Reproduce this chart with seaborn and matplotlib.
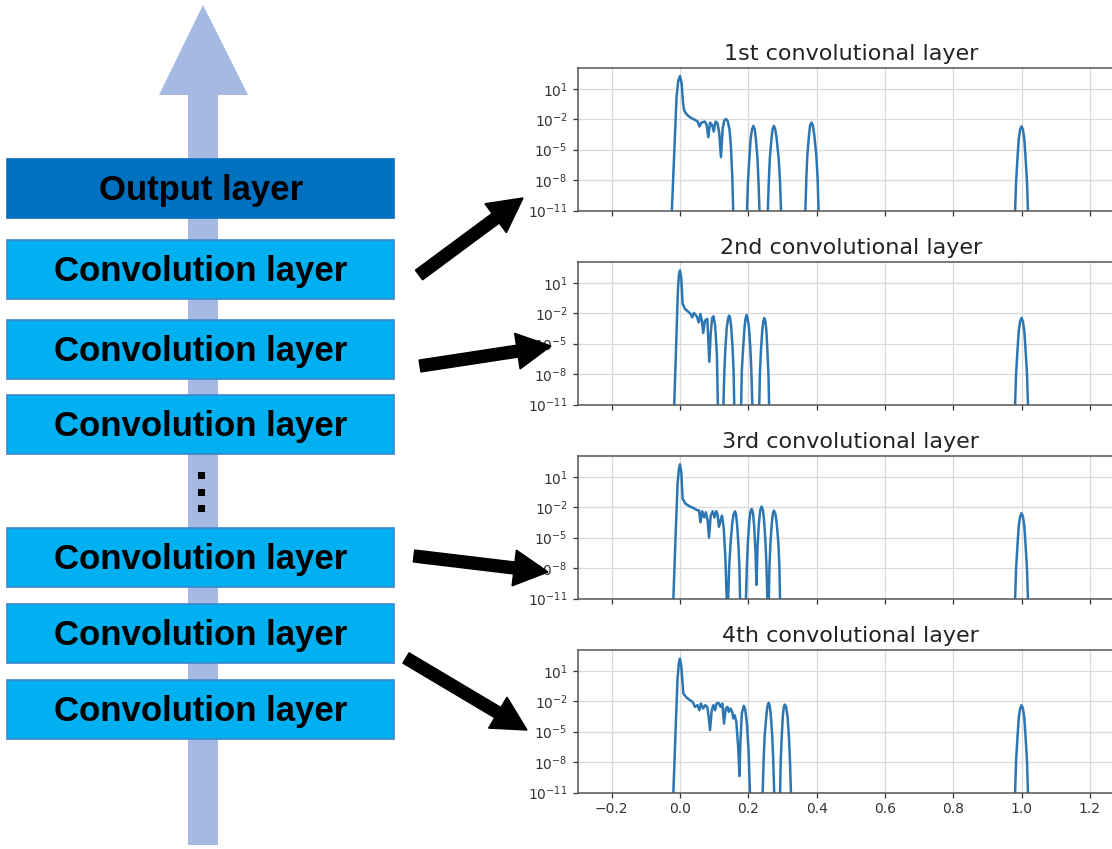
import numpy as np
import pandas as pd
import seaborn as sns
import matplotlib
matplotlib.use("Agg")
import matplotlib.pyplot as plt
from matplotlib.patches import Rectangle, Polygon, FancyArrow
from matplotlib.ticker import NullLocator

# ---------------- data (x, log10 of value) ----------------
titles = ["1st convolutional layer", "2nd convolutional layer",
          "3rd convolutional layer", "4th convolutional layer"]

layer1 = [(-0.026, -16), (-0.024, -11.2), (-0.017, -5.5), (-0.010, 0.2), (-0.005, 1.8), (0.0, 2.26),
          (0.005, 1.5), (0.009, -0.4), (0.012, -1.1), (0.017, -1.41), (0.024, -1.67), (0.034, -1.9),
          (0.044, -2.07), (0.052, -2.23), (0.057, -2.72), (0.063, -2.33), (0.073, -2.23), (0.078, -2.56),
          (0.083, -3.77), (0.088, -2.33), (0.094, -2.56), (0.099, -3.21), (0.104, -2.23), (0.110, -2.39),
          (0.115, -3.38), (0.120, -5.74), (0.125, -2.89), (0.130, -2.1), (0.135, -1.97), (0.140, -2.2),
          (0.145, -3.0), (0.149, -4.6), (0.153, -7.5), (0.156, -11.2), (0.158, -16),
          (0.194, -16), (0.196, -11.2), (0.199, -8.2), (0.203, -5.9), (0.207, -3.9), (0.211, -3.0),
          (0.215, -2.66), (0.219, -3.0), (0.222, -3.9), (0.227, -5.9), (0.230, -8.2), (0.233, -11.2),
          (0.235, -16),
          (0.255, -16), (0.257, -11.2), (0.260, -8.2), (0.263, -5.9), (0.268, -3.9), (0.271, -3.0),
          (0.275, -2.66), (0.279, -3.0), (0.283, -3.9), (0.289, -5.9), (0.293, -8.2), (0.296, -11.2),
          (0.298, -16),
          (0.365, -16), (0.367, -11.2), (0.370, -7.8), (0.373, -5.5), (0.378, -3.5), (0.381, -2.6),
          (0.385, -2.33), (0.389, -2.6), (0.393, -3.5), (0.399, -5.5), (0.403, -7.8), (0.406, -11.2),
          (0.408, -16),
          (0.979, -16), (0.981, -11.2), (0.984, -8.2), (0.988, -5.9), (0.992, -3.9), (0.996, -3.0),
          (1.0, -2.7), (1.004, -3.0), (1.008, -3.9), (1.012, -5.9), (1.016, -8.2), (1.019, -11.2),
          (1.021, -16)]

layer2 = [(-0.019, -16), (-0.017, -11.2), (-0.011, -5.0), (-0.006, 0.3), (-0.003, 1.8), (0.0, 2.22),
          (0.004, 1.4), (0.0078, -1.08), (0.0146, -1.57), (0.024, -1.84), (0.031, -2.07), (0.036, -2.4),
          (0.041, -1.97), (0.049, -2.3), (0.055, -2.9), (0.060, -2.07), (0.064, -2.73), (0.068, -3.95),
          (0.073, -2.73), (0.080, -2.56), (0.086, -6.8), (0.090, -4.0), (0.094, -2.5), (0.098, -2.3),
          (0.103, -3.2), (0.108, -6.0), (0.111, -11.2), (0.113, -16),
          (0.125, -16), (0.127, -11.2), (0.130, -7.7), (0.133, -5.4), (0.137, -3.4), (0.141, -2.5),
          (0.144, -2.23), (0.147, -2.5), (0.150, -3.4), (0.154, -5.4), (0.157, -7.7), (0.159, -11.2),
          (0.161, -16),
          (0.177, -16), (0.179, -11.2), (0.181, -7.7), (0.185, -5.4), (0.189, -3.4), (0.192, -2.5),
          (0.195, -2.17), (0.198, -2.5), (0.202, -3.4), (0.206, -5.4), (0.209, -7.7), (0.212, -11.2),
          (0.214, -16),
          (0.230, -16), (0.232, -11.2), (0.234, -8.0), (0.237, -5.7), (0.241, -3.7), (0.244, -2.8),
          (0.247, -2.47), (0.250, -2.8), (0.253, -3.7), (0.256, -5.7), (0.259, -8.0), (0.261, -11.2),
          (0.263, -16),
          (0.979, -16), (0.981, -11.2), (0.984, -8.0), (0.988, -5.7), (0.992, -3.7), (0.996, -2.8),
          (1.0, -2.45), (1.004, -2.8), (1.008, -3.7), (1.012, -5.7), (1.016, -8.0), (1.019, -11.2),
          (1.021, -16)]

layer3 = [(-0.022, -16), (-0.0195, -11.2), (-0.013, -5.0), (-0.007, 0.3), (-0.003, 1.8), (0.0, 2.23),
          (0.004, 1.4), (0.0078, -1.17), (0.0166, -1.67), (0.029, -1.93), (0.039, -2.07), (0.049, -2.27),
          (0.056, -2.33), (0.060, -3.5), (0.065, -2.4), (0.071, -3.0), (0.076, -2.5), (0.081, -3.33),
          (0.085, -5.0), (0.090, -2.83), (0.096, -2.4), (0.101, -3.0), (0.106, -2.4), (0.110, -2.67),
          (0.114, -3.93), (0.119, -3.33), (0.123, -2.83), (0.128, -4.0), (0.133, -7.0), (0.137, -11.2),
          (0.139, -16),
          (0.1395, -16), (0.141, -11.2), (0.144, -7.9), (0.148, -5.6), (0.153, -3.6), (0.157, -2.7),
          (0.161, -2.4), (0.164, -2.7), (0.167, -3.6), (0.171, -5.6), (0.174, -7.9), (0.176, -11.2),
          (0.178, -16),
          (0.191, -16), (0.193, -11.2), (0.196, -7.7), (0.199, -5.4), (0.203, -3.4), (0.206, -2.5),
          (0.210, -2.17), (0.214, -2.6), (0.217, -3.8), (0.221, -6.3), (0.224, -9.67), (0.227, -6.0),
          (0.231, -3.6), (0.235, -2.3), (0.239, -1.93), (0.243, -2.3), (0.246, -3.2), (0.250, -5.2),
          (0.253, -7.5), (0.256, -11.2), (0.258, -16),
          (0.259, -14), (0.260, -11.2), (0.262, -7.8), (0.265, -5.5), (0.269, -3.5), (0.272, -2.6),
          (0.275, -2.33), (0.279, -2.6), (0.283, -3.5), (0.288, -5.5), (0.291, -7.8), (0.293, -11.2),
          (0.295, -16),
          (0.979, -16), (0.981, -11.2), (0.984, -8.1), (0.988, -5.8), (0.992, -3.8), (0.996, -2.9),
          (1.0, -2.6), (1.004, -2.9), (1.008, -3.8), (1.012, -5.8), (1.016, -8.1), (1.019, -11.2),
          (1.021, -16)]

layer4 = [(-0.022, -16), (-0.0195, -11.2), (-0.013, -5.0), (-0.007, 0.3), (-0.003, 1.8), (0.0, 2.2),
          (0.004, 1.4), (0.0098, -1.25), (0.0195, -1.64), (0.029, -1.9), (0.037, -2.07), (0.044, -2.56),
          (0.051, -2.39), (0.057, -2.89), (0.061, -2.23), (0.068, -2.72), (0.074, -2.39), (0.080, -2.56),
          (0.084, -3.54), (0.088, -4.85), (0.093, -2.89), (0.098, -2.39), (0.103, -2.89), (0.107, -2.23),
          (0.113, -2.16), (0.119, -2.56), (0.124, -2.23), (0.129, -4.2), (0.134, -2.72), (0.139, -2.56),
          (0.143, -3.05), (0.148, -2.72), (0.153, -3.05), (0.156, -3.7), (0.160, -3.38), (0.165, -4.03),
          (0.171, -6.82), (0.174, -9.38), (0.177, -6.0), (0.181, -3.2), (0.187, -2.46), (0.191, -2.8),
          (0.196, -4.2), (0.201, -7.0), (0.205, -11.2), (0.207, -16),
          (0.240, -16), (0.242, -11.2), (0.245, -7.7), (0.248, -5.4), (0.253, -3.4), (0.256, -2.5),
          (0.260, -2.16), (0.263, -2.5), (0.266, -3.4), (0.270, -5.4), (0.273, -7.7), (0.276, -11.2),
          (0.278, -16),
          (0.291, -16), (0.293, -11.2), (0.295, -7.8), (0.298, -5.5), (0.301, -3.5), (0.304, -2.6),
          (0.307, -2.33), (0.311, -2.6), (0.315, -3.5), (0.319, -5.5), (0.322, -7.8), (0.325, -11.2),
          (0.327, -16),
          (0.979, -16), (0.981, -11.2), (0.984, -7.9), (0.988, -5.6), (0.992, -3.6), (0.996, -2.7),
          (1.0, -2.4), (1.004, -2.7), (1.008, -3.6), (1.012, -5.6), (1.016, -7.9), (1.019, -11.2),
          (1.021, -16)]

layers = [layer1, layer2, layer3, layer4]
x_ticks = [-0.2, 0.0, 0.2, 0.4, 0.6, 0.8, 1.0, 1.2]
y_ticks = [1e1, 1e-2, 1e-5, 1e-8, 1e-11]

box_labels = ["Output layer", "Convolution layer", "Convolution layer", "Convolution layer",
              "Convolution layer", "Convolution layer", "Convolution layer"]

# ---------------- figure ----------------
sns.set_style("white")
plt.rcParams["font.family"] = ["DejaVu Sans"]

W, H = 1112, 849
fig = plt.figure(figsize=(W / 100, H / 100), dpi=100)

line_color = "#2b76b3"
ax_left, ax_width, ax_height = 577.5, 546.5, 142.5
ax_tops = [68, 262, 456, 650]

for i, (data, title, top) in enumerate(zip(layers, titles, ax_tops)):
    df = pd.DataFrame(data, columns=["x", "logy"])
    df["y"] = 10.0 ** df["logy"]
    ax = fig.add_axes([ax_left / W, 1 - (top + ax_height) / H, ax_width / W, ax_height / H])
    sns.lineplot(data=df, x="x", y="y", ax=ax, color=line_color, lw=1.8,
                 estimator=None, sort=False)
    ax.set_yscale("log")
    ax.set_xlim(-0.3, 1.3)
    ax.set_ylim(1e-11, 10 ** 3.05)
    ax.set_xticks(x_ticks)
    ax.set_yticks(y_ticks)
    ax.yaxis.set_minor_locator(NullLocator())
    ax.grid(True, color="#d9d9d9", lw=0.9)
    ax.set_axisbelow(True)
    ax.set_xlabel("")
    ax.set_ylabel("")
    for s in ax.spines.values():
        s.set_color("#555555")
        s.set_linewidth(1.1)
    ax.tick_params(axis="both", which="major", labelsize=10, colors="#333333",
                   length=3.5, width=0.9, direction="out", left=True, bottom=True)
    if i < 3:
        ax.tick_params(axis="x", labelbottom=False)
    ax.set_title(title, fontsize=16, color="#222222", pad=6)

# ---------------- overlay diagram ----------------
ov = fig.add_axes([0, 0, 1, 1], zorder=10)
ov.set_xlim(0, W)
ov.set_ylim(H, 0)
ov.axis("off")
ov.patch.set_alpha(0)

# big upward arrow
ov.add_patch(Polygon([(188, 845), (218, 845), (218, 95), (248, 95), (203, 5), (159, 95), (188, 95)],
                     closed=True, facecolor="#a6b9e2", edgecolor="none", zorder=1))

box_tops = [159, 240, 320, 395, 528, 604, 680]
box_h = 59
for j, (lab, bt) in enumerate(zip(box_labels, box_tops)):
    if j == 0:
        fc, ec = "#0070c0", "#0070c0"
    else:
        fc, ec = "#00b0f0", "#3d86cc"
    ov.add_patch(Rectangle((7, bt), 387, box_h, facecolor=fc, edgecolor=ec, lw=1.2, zorder=2))
    ov.text(201, bt + box_h / 2 + 1.5, lab, ha="center", va="center", fontsize=25,
            fontweight="bold", family=["Liberation Sans", "DejaVu Sans"], color="black", zorder=3)

for yy in [475, 492, 508]:
    ov.add_patch(Rectangle((197.5, yy - 3.5), 7, 7, facecolor="black", edgecolor="none", zorder=3))

arrows = [((419, 275), (523, 198)), ((420, 366), (551, 346)),
          ((414, 556), (548, 572)), ((406, 658), (527, 730))]
for (x0, y0), (x1, y1) in arrows:
    ov.add_patch(FancyArrow(x0, y0, x1 - x0, y1 - y0, width=12, head_width=36, head_length=34,
                            length_includes_head=True, color="black", zorder=5))

fig.savefig("out.png", dpi=100)
